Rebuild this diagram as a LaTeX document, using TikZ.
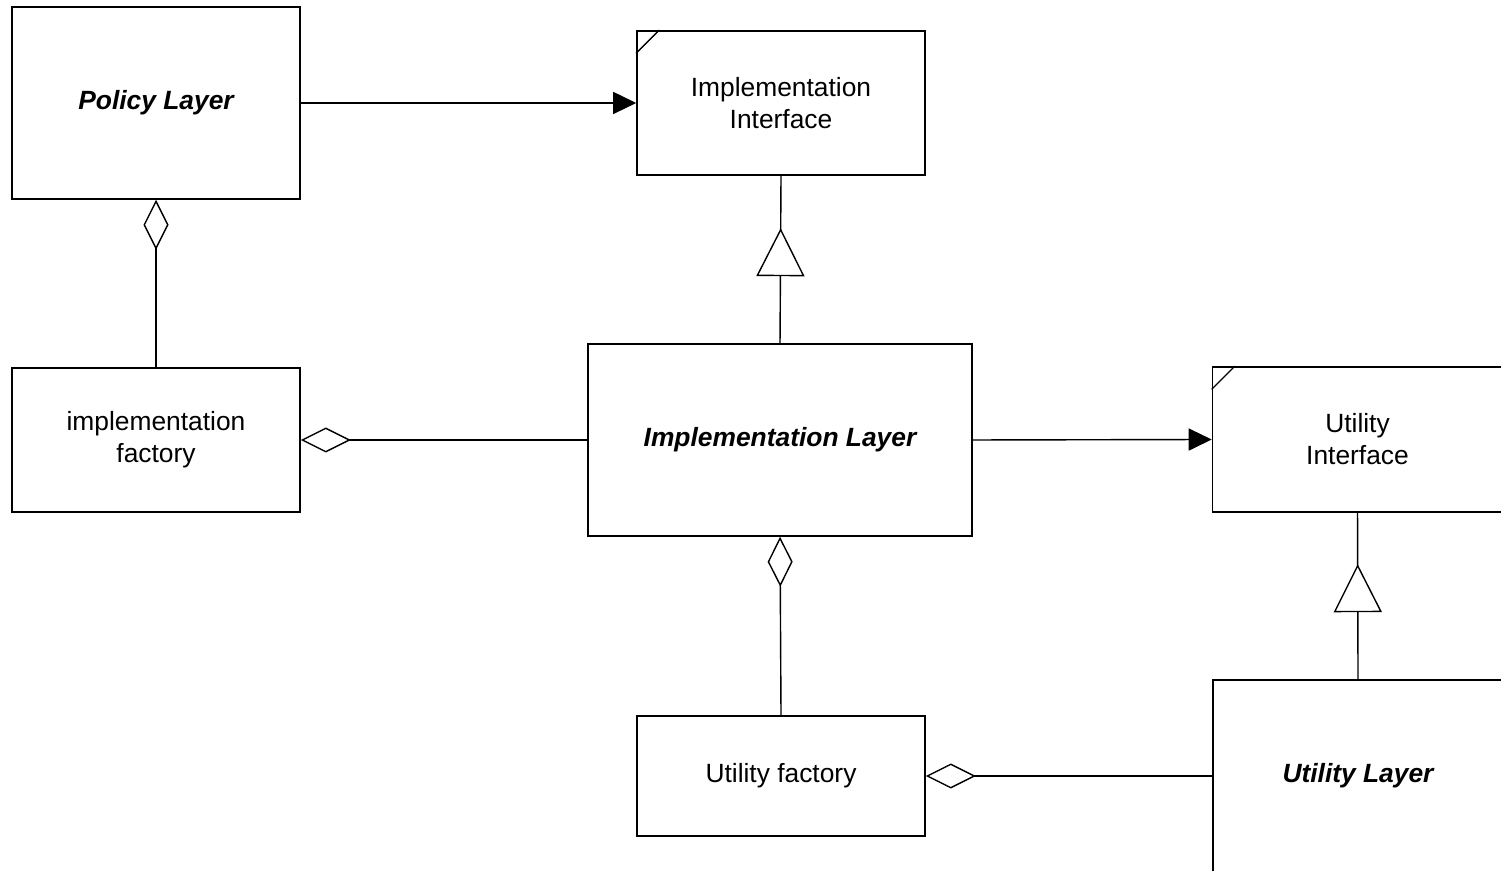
\documentclass[tikz,border=0pt]{standalone}
\usepackage{fontspec}
\setsansfont{Liberation Sans}
\usetikzlibrary{arrows.meta,decorations.markings}

\begin{document}
\begin{tikzpicture}[x=0.01cm,y=-0.01cm,line width=0.4pt,
	box/.style={draw,align=center,inner sep=0pt,font=\sffamily\fontsize{7.5}{9.1}\selectfont},
	layer/.style={box,font=\sffamily\bfseries\itshape\fontsize{7.5}{9.1}\selectfont},
	uses/.style={-{Triangle[length=0.23cm,width=0.22cm]}},
	owns/.style={{Diamond[open,length=0.5cm,width=0.25cm]}-},
	inherit/.style={postaction={decorate},decoration={markings,
		mark=at position 1.15cm with {\arrow{Triangle[fill=white,length=0.48cm,width=0.48cm]}}}}]
			\useasboundingbox (0,0) rectangle (1501,871);
			\clip (0,0) rectangle (1501,871);
% 			boxes
			\node[layer,minimum width=2.88cm,minimum height=1.92cm] (pol) at (156,103) {Policy Layer};
			\node[box,minimum width=2.88cm,minimum height=1.44cm] (impIf) at (781,103) {Implementation\\Interface};
			\node[box,minimum width=2.88cm,minimum height=1.44cm] (impFac) at (156,440) {implementation\\factory};
			\node[layer,minimum width=3.84cm,minimum height=1.92cm] (impL) at (780,440) {Implementation Layer};
			\node[box,minimum width=2.9cm,minimum height=1.45cm] (utIf) at (1357.5,439.5) {Utility\\Interface};
			\node[box,minimum width=2.88cm,minimum height=1.2cm] (utFac) at (781,776) {Utility factory};
			\node[layer,minimum width=2.9cm,minimum height=1.92cm] (utL) at (1358,776) {Utility Layer};
			
			% interface corners
			\draw ([yshift=-0.23cm]impIf.north west) -- ([xshift=0.23cm]impIf.north west);
			\draw ([yshift=-0.23cm]utIf.north west) -- ([xshift=0.23cm]utIf.north west);
			
			\begin{scope}
			\draw[uses] (pol.east) -- (impIf.west);
			\draw[uses] (impL.east) -- (utIf.west);
			\draw[owns] (pol.south) -- (impFac.north);
			\draw[owns] (impFac.east) -- (impL.west);
			\draw[owns] (impL.south) -- (utFac.north);
			\draw[owns] (utFac.east) -- (utL.west);
			\draw[inherit] (impL.north) -- (impIf.south);
			\draw[inherit] (utL.north) -- (utIf.south);
			\end{scope}
\end{tikzpicture}
\end{document}
